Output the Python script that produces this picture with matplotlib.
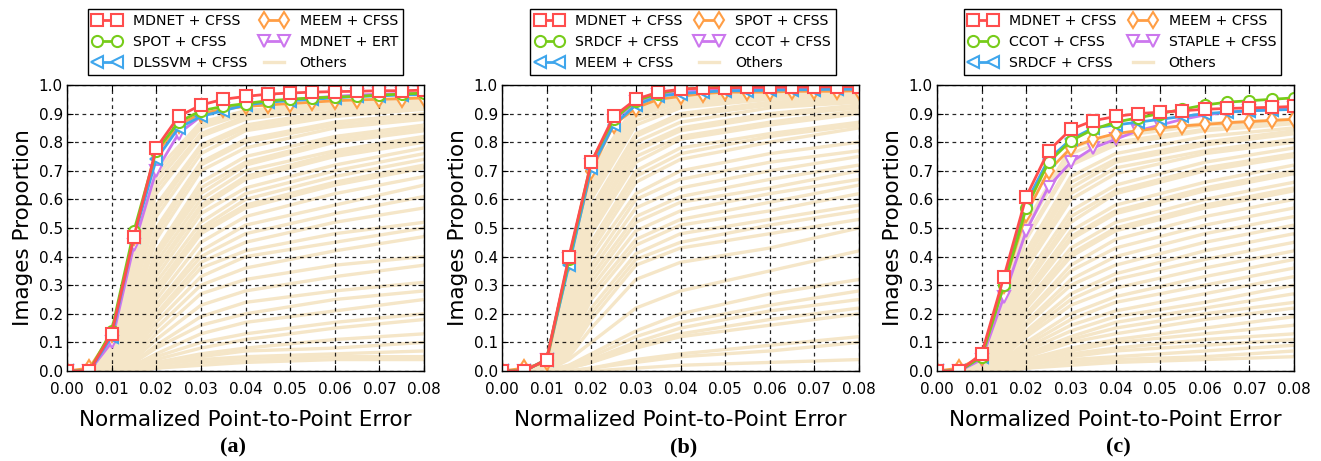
import numpy as np
import matplotlib
matplotlib.use("Agg")
import matplotlib.pyplot as plt

# Eje x de las curvas principales (cada 0.005)
x_main = [0.0, 0.005, 0.01, 0.015, 0.02, 0.025, 0.03, 0.035, 0.04,
          0.045, 0.05, 0.055, 0.06, 0.065, 0.07, 0.075, 0.08]
# Eje x de las curvas "Others"
x_otros = [0.0, 0.005, 0.01, 0.015, 0.02, 0.03, 0.04, 0.06, 0.08]

# ---------------- Panel (a) ----------------
nombres_a = ["MDNET + CFSS", "SPOT + CFSS", "DLSSVM + CFSS", "MEEM + CFSS", "MDNET + ERT"]
mdnet_a = [0, 0, 0.13, 0.47, 0.78, 0.89, 0.93, 0.95, 0.96, 0.968, 0.972, 0.975, 0.977, 0.978, 0.98, 0.98, 0.982]
spot_a = [0, 0, 0.14, 0.49, 0.77, 0.87, 0.91, 0.925, 0.935, 0.945, 0.95, 0.955, 0.958, 0.96, 0.965, 0.968, 0.972]
dlssvm_a = [0, 0, 0.12, 0.47, 0.74, 0.85, 0.89, 0.91, 0.93, 0.94, 0.945, 0.95, 0.955, 0.96, 0.962, 0.965, 0.967]
meem_a = [0, 0.01, 0.13, 0.47, 0.76, 0.86, 0.90, 0.915, 0.925, 0.93, 0.935, 0.94, 0.945, 0.948, 0.95, 0.952, 0.955]
ert_a = [0, 0, 0.10, 0.44, 0.70, 0.83, 0.89, 0.915, 0.93, 0.94, 0.95, 0.955, 0.96, 0.965, 0.968, 0.97, 0.972]

otros_a = [
    [0, 0, 0.10, 0.42, 0.70, 0.87, 0.91, 0.94, 0.955],
    [0, 0, 0.09, 0.40, 0.68, 0.86, 0.905, 0.935, 0.95],
    [0, 0, 0.08, 0.38, 0.66, 0.85, 0.90, 0.93, 0.945],
    [0, 0, 0.07, 0.36, 0.64, 0.83, 0.89, 0.925, 0.94],
    [0, 0, 0.07, 0.35, 0.62, 0.82, 0.88, 0.92, 0.935],
    [0, 0, 0.06, 0.32, 0.58, 0.79, 0.86, 0.91, 0.93],
    [0, 0, 0.06, 0.30, 0.56, 0.78, 0.85, 0.90, 0.92],
    [0, 0, 0.05, 0.28, 0.54, 0.76, 0.84, 0.89, 0.915],
    [0, 0, 0.05, 0.25, 0.50, 0.73, 0.81, 0.87, 0.90],
    [0, 0, 0.04, 0.23, 0.48, 0.72, 0.80, 0.86, 0.89],
    [0, 0, 0.04, 0.22, 0.46, 0.70, 0.78, 0.85, 0.88],
    [0, 0, 0.04, 0.20, 0.42, 0.66, 0.75, 0.82, 0.86],
    [0, 0, 0.03, 0.19, 0.41, 0.64, 0.73, 0.81, 0.85],
    [0, 0, 0.03, 0.18, 0.40, 0.62, 0.72, 0.80, 0.84],
    [0, 0, 0.03, 0.17, 0.38, 0.60, 0.70, 0.77, 0.82],
    [0, 0, 0.03, 0.16, 0.36, 0.58, 0.68, 0.76, 0.81],
    [0, 0, 0.03, 0.15, 0.35, 0.57, 0.67, 0.75, 0.80],
    [0, 0, 0.02, 0.14, 0.33, 0.55, 0.64, 0.72, 0.78],
    [0, 0, 0.02, 0.13, 0.31, 0.52, 0.62, 0.70, 0.76],
    [0, 0, 0.02, 0.12, 0.29, 0.50, 0.60, 0.68, 0.74],
    [0, 0, 0.02, 0.12, 0.28, 0.49, 0.58, 0.66, 0.72],
    [0, 0, 0.02, 0.11, 0.27, 0.48, 0.57, 0.65, 0.71],
    [0, 0, 0.02, 0.10, 0.25, 0.45, 0.54, 0.62, 0.68],
    [0, 0, 0.01, 0.09, 0.23, 0.42, 0.51, 0.58, 0.65],
    [0, 0, 0.01, 0.09, 0.22, 0.40, 0.48, 0.55, 0.61],
    [0, 0, 0.01, 0.08, 0.20, 0.38, 0.45, 0.52, 0.57],
    [0, 0, 0.01, 0.08, 0.19, 0.36, 0.42, 0.48, 0.52],
    [0, 0, 0.01, 0.07, 0.17, 0.33, 0.40, 0.45, 0.50],
    [0, 0, 0.01, 0.06, 0.15, 0.30, 0.36, 0.42, 0.47],
    [0, 0, 0.01, 0.05, 0.13, 0.27, 0.32, 0.37, 0.40],
    [0, 0, 0.01, 0.04, 0.11, 0.23, 0.28, 0.33, 0.37],
    [0, 0, 0.00, 0.03, 0.09, 0.19, 0.24, 0.28, 0.31],
    [0, 0, 0.00, 0.03, 0.08, 0.16, 0.20, 0.25, 0.28],
    [0, 0, 0.00, 0.02, 0.06, 0.13, 0.17, 0.21, 0.25],
    [0, 0, 0.00, 0.02, 0.05, 0.10, 0.13, 0.17, 0.20],
    [0, 0, 0.00, 0.01, 0.04, 0.08, 0.11, 0.15, 0.18],
    [0, 0, 0.00, 0.01, 0.03, 0.06, 0.08, 0.11, 0.13],
    [0, 0, 0.00, 0.01, 0.02, 0.05, 0.07, 0.08, 0.10],
    [0, 0, 0.00, 0.00, 0.02, 0.04, 0.05, 0.06, 0.07],
    [0, 0, 0.00, 0.00, 0.01, 0.03, 0.04, 0.05, 0.05],
    [0, 0, 0.00, 0.00, 0.01, 0.02, 0.03, 0.04, 0.04],
]

# ---------------- Panel (b) ----------------
nombres_b = ["MDNET + CFSS", "SRDCF + CFSS", "MEEM + CFSS", "SPOT + CFSS", "CCOT + CFSS"]
mdnet_b = [0, 0, 0.04, 0.40, 0.73, 0.89, 0.95, 0.975, 0.985, 0.99, 0.99, 0.992, 0.992, 0.993, 0.993, 0.994, 0.994]
srdcf_b = [0, 0, 0.04, 0.39, 0.73, 0.88, 0.945, 0.97, 0.985, 0.99, 0.993, 0.995, 0.996, 0.997, 0.997, 0.998, 0.998]
meem_b = [0, 0, 0.04, 0.37, 0.71, 0.86, 0.93, 0.96, 0.97, 0.975, 0.98, 0.98, 0.982, 0.983, 0.984, 0.985, 0.985]
spot_b = [0, 0.01, 0.03, 0.38, 0.70, 0.86, 0.92, 0.95, 0.96, 0.97, 0.975, 0.975, 0.975, 0.978, 0.978, 0.978, 0.98]
ccot_b = [0, 0, 0.04, 0.39, 0.72, 0.875, 0.94, 0.965, 0.975, 0.98, 0.983, 0.985, 0.986, 0.987, 0.988, 0.988, 0.989]

otros_b = [
    [0, 0, 0.04, 0.37, 0.70, 0.93, 0.96, 0.975, 0.98],
    [0, 0, 0.04, 0.36, 0.69, 0.92, 0.955, 0.97, 0.978],
    [0, 0, 0.04, 0.35, 0.67, 0.91, 0.95, 0.97, 0.975],
    [0, 0, 0.03, 0.34, 0.66, 0.90, 0.945, 0.965, 0.972],
    [0, 0, 0.03, 0.33, 0.64, 0.89, 0.94, 0.96, 0.97],
    [0, 0, 0.03, 0.31, 0.62, 0.875, 0.93, 0.955, 0.965],
    [0, 0, 0.03, 0.30, 0.60, 0.86, 0.92, 0.95, 0.96],
    [0, 0, 0.03, 0.28, 0.57, 0.83, 0.90, 0.94, 0.95],
    [0, 0, 0.02, 0.27, 0.56, 0.82, 0.89, 0.93, 0.945],
    [0, 0, 0.02, 0.26, 0.54, 0.80, 0.87, 0.92, 0.94],
    [0, 0, 0.02, 0.25, 0.52, 0.78, 0.85, 0.90, 0.93],
    [0, 0, 0.02, 0.24, 0.51, 0.77, 0.84, 0.89, 0.92],
    [0, 0, 0.02, 0.23, 0.49, 0.75, 0.82, 0.87, 0.91],
    [0, 0, 0.02, 0.22, 0.48, 0.73, 0.81, 0.86, 0.90],
    [0, 0, 0.02, 0.20, 0.45, 0.70, 0.78, 0.83, 0.87],
    [0, 0, 0.02, 0.19, 0.44, 0.68, 0.76, 0.82, 0.86],
    [0, 0, 0.02, 0.18, 0.42, 0.66, 0.74, 0.80, 0.85],
    [0, 0, 0.02, 0.17, 0.40, 0.62, 0.70, 0.76, 0.80],
    [0, 0, 0.01, 0.15, 0.37, 0.60, 0.67, 0.73, 0.77],
    [0, 0, 0.01, 0.14, 0.35, 0.57, 0.64, 0.70, 0.75],
    [0, 0, 0.01, 0.13, 0.33, 0.54, 0.61, 0.67, 0.72],
    [0, 0, 0.01, 0.12, 0.31, 0.52, 0.59, 0.64, 0.70],
    [0, 0, 0.01, 0.11, 0.29, 0.49, 0.56, 0.62, 0.67],
    [0, 0, 0.01, 0.10, 0.27, 0.46, 0.53, 0.59, 0.65],
    [0, 0, 0.01, 0.09, 0.25, 0.44, 0.51, 0.56, 0.62],
    [0, 0, 0.01, 0.08, 0.22, 0.41, 0.48, 0.53, 0.58],
    [0, 0, 0.01, 0.07, 0.20, 0.39, 0.45, 0.51, 0.56],
    [0, 0, 0.01, 0.06, 0.18, 0.37, 0.43, 0.48, 0.53],
    [0, 0, 0.01, 0.05, 0.15, 0.32, 0.38, 0.43, 0.50],
    [0, 0, 0.00, 0.04, 0.10, 0.22, 0.28, 0.35, 0.42],
    [0, 0, 0.00, 0.02, 0.06, 0.14, 0.20, 0.27, 0.32],
    [0, 0, 0.00, 0.02, 0.05, 0.12, 0.17, 0.23, 0.28],
    [0, 0, 0.00, 0.01, 0.04, 0.10, 0.15, 0.21, 0.25],
    [0, 0, 0.00, 0.01, 0.03, 0.09, 0.13, 0.18, 0.22],
    [0, 0, 0.00, 0.01, 0.03, 0.08, 0.12, 0.16, 0.20],
    [0, 0, 0.00, 0.00, 0.01, 0.04, 0.06, 0.09, 0.12],
    [0, 0, 0.00, 0.00, 0.01, 0.03, 0.05, 0.07, 0.10],
    [0, 0, 0.00, 0.00, 0.00, 0.01, 0.02, 0.03, 0.04],
]

# ---------------- Panel (c) ----------------
nombres_c = ["MDNET + CFSS", "CCOT + CFSS", "SRDCF + CFSS", "MEEM + CFSS", "STAPLE + CFSS"]
mdnet_c = [0, 0, 0.06, 0.33, 0.61, 0.77, 0.845, 0.875, 0.89, 0.90, 0.905, 0.91, 0.915, 0.918, 0.92, 0.922, 0.925]
ccot_c = [0, 0, 0.05, 0.30, 0.57, 0.73, 0.805, 0.845, 0.87, 0.885, 0.90, 0.915, 0.93, 0.94, 0.945, 0.95, 0.955]
srdcf_c = [0, 0, 0.05, 0.31, 0.59, 0.74, 0.81, 0.85, 0.86, 0.87, 0.88, 0.89, 0.90, 0.905, 0.91, 0.912, 0.915]
meem_c = [0, 0.01, 0.05, 0.30, 0.55, 0.70, 0.78, 0.81, 0.83, 0.84, 0.85, 0.857, 0.862, 0.868, 0.872, 0.876, 0.88]
staple_c = [0, 0, 0.04, 0.26, 0.49, 0.645, 0.73, 0.78, 0.81, 0.84, 0.86, 0.88, 0.895, 0.905, 0.91, 0.915, 0.92]

otros_c = [
    [0, 0, 0.04, 0.26, 0.52, 0.78, 0.83, 0.865, 0.88],
    [0, 0, 0.04, 0.25, 0.50, 0.76, 0.82, 0.86, 0.875],
    [0, 0, 0.03, 0.23, 0.47, 0.73, 0.80, 0.845, 0.87],
    [0, 0, 0.03, 0.22, 0.46, 0.72, 0.79, 0.84, 0.865],
    [0, 0, 0.03, 0.20, 0.42, 0.68, 0.76, 0.82, 0.85],
    [0, 0, 0.03, 0.19, 0.40, 0.66, 0.74, 0.80, 0.84],
    [0, 0, 0.03, 0.18, 0.39, 0.64, 0.73, 0.79, 0.83],
    [0, 0, 0.02, 0.17, 0.37, 0.62, 0.71, 0.77, 0.81],
    [0, 0, 0.02, 0.16, 0.36, 0.60, 0.69, 0.76, 0.80],
    [0, 0, 0.02, 0.15, 0.33, 0.56, 0.65, 0.73, 0.78],
    [0, 0, 0.02, 0.14, 0.31, 0.54, 0.63, 0.71, 0.76],
    [0, 0, 0.02, 0.13, 0.30, 0.52, 0.62, 0.70, 0.75],
    [0, 0, 0.02, 0.12, 0.28, 0.49, 0.58, 0.66, 0.72],
    [0, 0, 0.02, 0.115, 0.27, 0.47, 0.56, 0.64, 0.70],
    [0, 0, 0.02, 0.11, 0.26, 0.46, 0.55, 0.63, 0.69],
    [0, 0, 0.01, 0.10, 0.24, 0.43, 0.52, 0.60, 0.66],
    [0, 0, 0.01, 0.095, 0.23, 0.41, 0.50, 0.58, 0.64],
    [0, 0, 0.01, 0.09, 0.22, 0.40, 0.49, 0.57, 0.63],
    [0, 0, 0.01, 0.08, 0.20, 0.37, 0.46, 0.54, 0.60],
    [0, 0, 0.01, 0.08, 0.19, 0.35, 0.43, 0.51, 0.57],
    [0, 0, 0.01, 0.07, 0.17, 0.32, 0.40, 0.48, 0.54],
    [0, 0, 0.01, 0.06, 0.16, 0.30, 0.37, 0.45, 0.51],
    [0, 0, 0.01, 0.06, 0.14, 0.27, 0.34, 0.42, 0.48],
    [0, 0, 0.01, 0.05, 0.13, 0.25, 0.32, 0.39, 0.45],
    [0, 0, 0.01, 0.05, 0.12, 0.23, 0.29, 0.36, 0.42],
    [0, 0, 0.00, 0.04, 0.10, 0.20, 0.26, 0.33, 0.39],
    [0, 0, 0.00, 0.04, 0.09, 0.18, 0.24, 0.30, 0.36],
    [0, 0, 0.00, 0.03, 0.08, 0.16, 0.21, 0.27, 0.33],
    [0, 0, 0.00, 0.03, 0.07, 0.14, 0.19, 0.24, 0.30],
    [0, 0, 0.00, 0.02, 0.06, 0.12, 0.17, 0.22, 0.27],
    [0, 0, 0.00, 0.02, 0.05, 0.11, 0.15, 0.20, 0.24],
    [0, 0, 0.00, 0.02, 0.05, 0.10, 0.13, 0.18, 0.22],
    [0, 0, 0.00, 0.01, 0.04, 0.08, 0.11, 0.15, 0.19],
    [0, 0, 0.00, 0.01, 0.03, 0.07, 0.10, 0.13, 0.16],
    [0, 0, 0.00, 0.01, 0.03, 0.06, 0.08, 0.11, 0.13],
    [0, 0, 0.00, 0.01, 0.02, 0.05, 0.07, 0.09, 0.11],
    [0, 0, 0.00, 0.00, 0.02, 0.04, 0.05, 0.07, 0.09],
    [0, 0, 0.00, 0.00, 0.01, 0.03, 0.04, 0.05, 0.07],
    [0, 0, 0.00, 0.00, 0.01, 0.02, 0.03, 0.04, 0.05],
]

# Estilos de las 5 curvas principales (mismo orden en los tres paneles)
colores = ["#ff4d4d", "#77cc1a", "#3fa6ec", "#ff9e45", "#cc77ee"]
marcadores = ["s", "o", "<", "d", "v"]
color_otros = "#f5e6c8"

paneles = [
    (nombres_a, [mdnet_a, spot_a, dlssvm_a, meem_a, ert_a], otros_a, "(a)", 0.5, 233),
    (nombres_b, [mdnet_b, srdcf_b, meem_b, spot_b, ccot_b], otros_b, "(b)", 0.507, 684),
    (nombres_c, [mdnet_c, ccot_c, srdcf_c, meem_c, staple_c], otros_c, "(c)", 0.52, 1118),
]
izquierdas = [67, 502, 937]

W, H = 1321, 461
fig = plt.figure(figsize=(W / 100, H / 100), dpi=100)

for (nombres, series, otros, letra, cx_leg, cx_txt), izq in zip(paneles, izquierdas):
    ax = fig.add_axes([izq / W, 1 - 371 / H, 357 / W, 286 / H])

    # Curvas "Others" al fondo
    for i, curva in enumerate(otros):
        ax.plot(x_otros, curva, color=color_otros, lw=2.4, zorder=1,
                label="Others" if i == 0 else None)

    # Curvas principales: la primera queda encima
    lineas = []
    for k in range(len(series)):
        l, = ax.plot(x_main, series[k], color=colores[k], lw=2, marker=marcadores[k],
                     markersize=8, markerfacecolor="white", markeredgecolor=colores[k],
                     markeredgewidth=1.5, label=nombres[k], zorder=10 - k)
        lineas.append(l)

    ax.set_xlim(0, 0.08)
    ax.set_ylim(0, 1.0)
    ax.set_xticks(np.arange(0, 0.081, 0.01))
    ax.set_yticks(np.arange(0, 1.01, 0.1))
    ax.set_xticklabels(["%.2f" % v for v in np.arange(0, 0.081, 0.01)])
    ax.set_yticklabels(["%.1f" % v for v in np.arange(0, 1.01, 0.1)])
    ax.tick_params(direction="in", labelsize=11, length=4, top=True, right=True)
    ax.tick_params(axis="x", pad=8)
    ax.tick_params(axis="y", pad=3)
    ax.grid(True, color="black", linestyle=(0, (3, 3)), lw=0.9, alpha=0.85, zorder=5)
    ax.set_axisbelow(False)
    for s in ax.spines.values():
        s.set_linewidth(1.0)
        s.set_zorder(20)

    ax.set_xlabel("Normalized Point-to-Point Error", fontsize=15.5, labelpad=9)
    ax.set_ylabel("Images Proportion", fontsize=15.5, labelpad=4)

    # Leyenda en 2 columnas: 3 filas por columna
    h_otros = ax.get_lines()[0]
    manejadores = [lineas[0], lineas[1], lineas[2], lineas[3], lineas[4], h_otros]
    etiquetas = [nombres[0], nombres[1], nombres[2], nombres[3], nombres[4], "Others"]
    leg = ax.legend(manejadores, etiquetas, loc="upper center", bbox_to_anchor=(cx_leg, 1.265),
                    ncol=2, fontsize=10.2, numpoints=2, handlelength=2.0, handletextpad=0.8,
                    columnspacing=0.9, labelspacing=0.5, borderaxespad=0, borderpad=0.35,
                    fancybox=False, framealpha=1, edgecolor="black")
    leg.get_frame().set_linewidth(1.0)
    for lh in leg.get_lines():
        lh.set_markersize(8)

    fig.text(cx_txt / W, 1 - 447 / H, letra, ha="center", va="center",
             fontsize=16, fontweight="bold", family="Liberation Serif")

fig.savefig("out.png", dpi=100)
